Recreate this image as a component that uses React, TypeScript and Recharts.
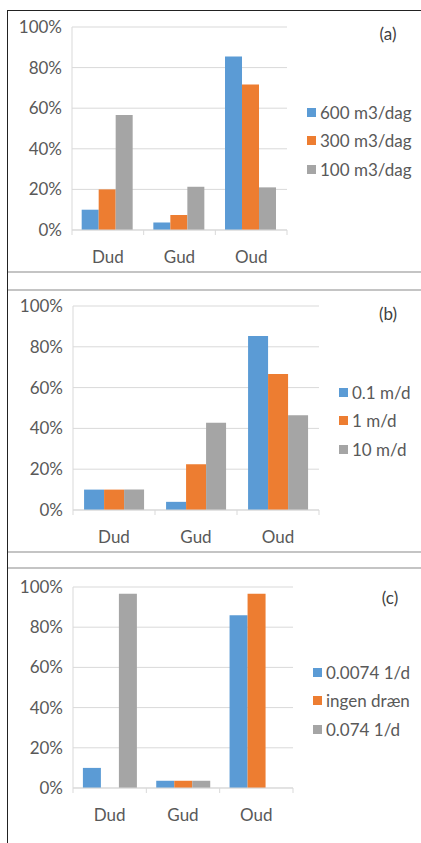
import React from 'react';
import { BarChart, Bar, XAxis, YAxis, CartesianGrid, Legend } from 'recharts';

const categories = ['Dud', 'Gud', 'Oud'];
const yTicks = [0, 0.2, 0.4, 0.6, 0.8, 1];

// (a) pumping rate
const namesA = ['600 m3/dag', '300 m3/dag', '100 m3/dag'];
const a600 = [0.1, 0.037, 0.855];
const a300 = [0.2, 0.074, 0.717];
const a100 = [0.567, 0.213, 0.21];

// (b) conductivity
const namesB = ['0.1 m/d', '1 m/d', '10 m/d'];
const b01 = [0.1, 0.04, 0.853];
const b1 = [0.1, 0.224, 0.667];
const b10 = [0.1, 0.428, 0.464];

// (c) drain
const namesC = ['0.0074 1/d', 'ingen dræn', '0.074 1/d'];
const c0074 = [0.1, 0.036, 0.86];
const cIngen = [0, 0.036, 0.967];
const c074 = [0.967, 0.036, 0];

const colors = ['#5B9BD5', '#ED7D31', '#A5A5A5'];
const textColor = '#595959';
const gridColor = '#D9D9D9';
const fontSize = 17;

const buildRows = (series: number[][]) =>
  categories.map((cat, i) => ({ cat, s0: series[0][i], s1: series[1][i], s2: series[2][i] }));

const makeLegend = (names: string[]) => () => (
  <div style={{ whiteSpace: 'nowrap' }}>
    {names.map((n, i) => (
      <div key={n} style={{ display: 'flex', alignItems: 'center', height: 28.5, fontSize, color: textColor }}>
        <div style={{ width: 9, height: 9, background: colors[i], marginRight: 4, flexShrink: 0 }} />
        <span>{n}</span>
      </div>
    ))}
  </div>
);

interface PanelProps {
  top: number;
  height: number;
  plotLeft: number;
  plotRight: number;
  y100: number;
  y0: number;
  legendTop: number;
  names: string[];
  series: number[][];
  label: string;
  labelX: number;
  labelY: number;
}

const Panel = (p: PanelProps) => {
  const band = (p.plotRight - p.plotLeft) / categories.length;
  const CatTick = (t: any) => (
    <g>
      <line x1={t.x - band / 2} x2={t.x - band / 2} y1={t.y} y2={t.y + 5} stroke={gridColor} />
      {t.index === categories.length - 1 && (
        <line x1={t.x + band / 2} x2={t.x + band / 2} y1={t.y} y2={t.y + 5} stroke={gridColor} />
      )}
      <text x={t.x} y={t.y + 21} dy="0.71em" textAnchor="middle" fill={textColor} fontSize={fontSize}>
        {t.payload.value}
      </text>
    </g>
  );
  const xAxisHeight = 30;
  return (
    <div style={{ position: 'absolute', left: 0, top: p.top, width: 421, height: p.height }}>
      <BarChart
        width={421}
        height={p.height}
        data={buildRows(p.series)}
        barCategoryGap="13.5%"
        barGap={0}
        margin={{
          top: p.y100 - p.top,
          bottom: p.height - (p.y0 - p.top) - xAxisHeight,
          left: 8,
          right: 421 - p.plotRight,
        }}
      >
        <CartesianGrid vertical={false} stroke={gridColor} />
        <XAxis
          dataKey="cat"
          height={xAxisHeight}
          axisLine={{ stroke: gridColor }}
          tickLine={false}
          tickSize={0}
          tickMargin={0}
          tick={<CatTick />}
          interval={0}
        />
        <YAxis
          width={p.plotLeft - 8}
          domain={[0, 1]}
          ticks={yTicks}
          tickFormatter={(v: number) => `${Math.round(v * 100)}%`}
          axisLine={{ stroke: gridColor }}
          tickLine={false}
          tickSize={6}
          tickMargin={4}
          tick={{ fill: textColor, fontSize }}
        />
        <Legend
          layout="vertical"
          align="right"
          verticalAlign="top"
          content={makeLegend(p.names)}
          wrapperStyle={{ width: 0, left: p.plotRight + 20, top: p.legendTop - p.top - 14.25, right: 'auto' }}
        />
        {p.names.map((n, i) => (
          <Bar key={n} dataKey={`s${i}`} name={n} fill={colors[i]} isAnimationActive={false} />
        ))}
      </BarChart>
      <span
        style={{
          position: 'absolute',
          left: p.labelX,
          top: p.labelY - p.top,
          transform: 'translate(-50%, -50%)',
          fontSize,
          color: '#404040',
        }}
      >
        {p.label}
      </span>
    </div>
  );
};

const hLine = (y: number) => (
  <div key={y} style={{ position: 'absolute', left: 8, top: y - 1, width: 413, height: 2, background: '#C4C4C4' }} />
);

export default function App() {
  return (
    <div
      style={{
        position: 'fixed',
        left: 0,
        top: 0,
        width: 421,
        height: 843,
        overflow: 'hidden',
        background: '#fff',
        fontFamily: 'Lato, "Open Sans", sans-serif',
      }}
    >
      <Panel
        top={10}
        height={262}
        plotLeft={72}
        plotRight={287}
        y100={27}
        y0={230}
        legendTop={112}
        names={namesA}
        series={[a600, a300, a100]}
        label="(a)"
        labelX={388}
        labelY={33}
      />
      <Panel
        top={290}
        height={262}
        plotLeft={73}
        plotRight={319}
        y100={306}
        y0={510}
        legendTop={392}
        names={namesB}
        series={[b01, b1, b10]}
        label="(b)"
        labelX={388}
        labelY={313}
      />
      <Panel
        top={568}
        height={275}
        plotLeft={73}
        plotRight={293}
        y100={587}
        y0={788}
        legendTop={672}
        names={namesC}
        series={[c0074, cIngen, c074]}
        label="(c)"
        labelX={390}
        labelY={597}
      />
      <div style={{ position: 'absolute', left: 8, top: 10, width: 413, height: 1, background: '#222' }} />
      <div style={{ position: 'absolute', left: 7, top: 10, width: 1, height: 833, background: '#222' }} />
      {[272, 290, 552, 568].map(hLine)}
    </div>
  );
}
